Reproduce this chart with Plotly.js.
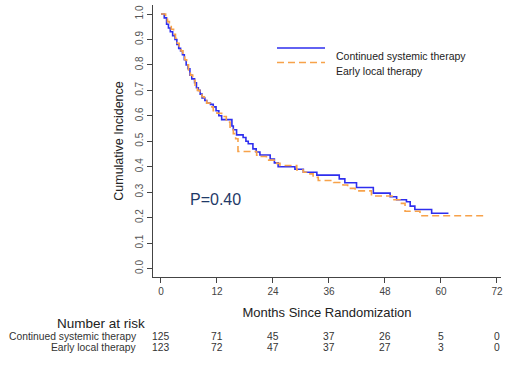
<!DOCTYPE html>
<html><head><meta charset="utf-8">
<script src="https://cdn.plot.ly/plotly-3.0.1.min.js"></script>
<style>html,body{margin:0;padding:0;background:#fff;}#chart{width:511px;height:366px;}</style>
</head><body><div id="chart"></div>
<script>
// Continued systemic therapy (step curve)
const cst_t = [0, 0.7, 1.2, 1.6, 2.0, 2.5, 3.0, 3.4, 3.8, 4.2, 4.6, 5.0, 5.4, 5.8, 6.2, 6.6, 7.2, 7.6, 8.0, 8.4, 8.8, 9.4, 9.8, 10.6, 11.2, 11.8, 12.4, 13.0, 15.2, 15.5, 16.2, 17.6, 18.2, 18.7, 19.7, 20.4, 21.2, 23.4, 24.3, 25.1, 28.7, 30.5, 33.4, 38.2, 39.4, 41.9, 45.5, 49.1, 50.5, 52.6, 53.4, 54.4, 58.0, 61.6];
const cst_v = [1.0, 0.985, 0.96, 0.945, 0.93, 0.915, 0.90, 0.88, 0.865, 0.855, 0.84, 0.82, 0.80, 0.785, 0.76, 0.745, 0.73, 0.71, 0.70, 0.685, 0.67, 0.66, 0.65, 0.645, 0.635, 0.62, 0.60, 0.585, 0.56, 0.545, 0.525, 0.515, 0.50, 0.49, 0.47, 0.458, 0.446, 0.43, 0.415, 0.40, 0.39, 0.378, 0.367, 0.352, 0.337, 0.318, 0.296, 0.282, 0.27, 0.262, 0.245, 0.232, 0.217, 0.217];
// Early local therapy (step curve)
const elt_t = [0, 1.0, 1.4, 1.8, 2.2, 2.7, 3.1, 3.5, 3.9, 4.3, 4.7, 5.1, 5.5, 5.9, 6.3, 6.8, 7.3, 7.8, 8.3, 8.8, 9.3, 9.8, 10.5, 11.2, 12.0, 13.0, 14.0, 14.8, 15.5, 16.0, 16.5, 20.5, 21.2, 22.6, 24.8, 25.5, 29.1, 30.5, 31.2, 32.6, 33.7, 37.0, 39.0, 40.0, 41.6, 45.1, 49.5, 51.2, 52.3, 55.5, 69.1];
const elt_v = [1.0, 0.985, 0.97, 0.955, 0.94, 0.92, 0.905, 0.885, 0.87, 0.855, 0.84, 0.82, 0.80, 0.78, 0.76, 0.74, 0.72, 0.70, 0.69, 0.675, 0.66, 0.65, 0.635, 0.62, 0.61, 0.597, 0.575, 0.55, 0.53, 0.51, 0.46, 0.445, 0.44, 0.426, 0.413, 0.405, 0.387, 0.378, 0.372, 0.358, 0.346, 0.338, 0.328, 0.315, 0.305, 0.285, 0.27, 0.256, 0.225, 0.207, 0.207];
// Number at risk
const risk_times = [0, 12, 24, 36, 48, 60, 72];
const risk_cst = [125, 71, 45, 37, 26, 5, 0];
const risk_elt = [123, 72, 47, 37, 27, 3, 0];
const series_names = ["Continued systemic therapy", "Early local therapy"];
const x_ticks = [0, 12, 24, 36, 48, 60, 72];
const y_ticks = [0, 0.1, 0.2, 0.3, 0.4, 0.5, 0.6, 0.7, 0.8, 0.9, 1.0];

const BLUE = '#2E2EEE', ORANGE = '#F7A24A';
const FONT = 'Liberation Sans, Arial, sans-serif';

const traces = [
  {x: cst_t, y: cst_v, mode: 'lines', line: {shape: 'hv', color: BLUE, width: 1.6}, name: series_names[0], showlegend: false},
  {x: elt_t, y: elt_v, mode: 'lines', line: {shape: 'hv', color: ORANGE, width: 1.6, dash: '7px,4px'}, name: series_names[1], showlegend: false}
];

function py(p){ return (277 - p) / 272; } // pixel row -> paper y

const annotations = [
  {xref: 'x', yref: 'y', x: 11.7, y: 0.27, xanchor: 'center', text: 'P=0.40', showarrow: false, font: {family: FONT, size: 16, color: '#1F3A68'}},
  {xref: 'paper', yref: 'paper', x: (334-153)/348, y: py(48), xanchor: 'left', text: series_names[0], showarrow: false, font: {family: FONT, size: 10.5, color: '#222'}},
  {xref: 'paper', yref: 'paper', x: (334-153)/348, y: py(62.5), xanchor: 'left', text: series_names[1], showarrow: false, font: {family: FONT, size: 10.5, color: '#222'}},
  {xref: 'paper', yref: 'paper', x: (101-153)/348, y: py(332.5), xanchor: 'center', text: 'Number at risk', showarrow: false, font: {family: FONT, size: 13.5, color: '#222'}},
  {xref: 'paper', yref: 'paper', x: (139-153)/348, y: py(343.5), xanchor: 'right', text: series_names[0], showarrow: false, font: {family: FONT, size: 10.3, color: '#333'}},
  {xref: 'paper', yref: 'paper', x: (139-153)/348, y: py(355), xanchor: 'right', text: series_names[1], showarrow: false, font: {family: FONT, size: 10.3, color: '#333'}}
];
risk_times.forEach((t, i) => {
  annotations.push({xref: 'x', yref: 'paper', x: t, y: py(343.5), xanchor: 'center', text: String(risk_cst[i]), showarrow: false, font: {family: FONT, size: 10.3, color: '#333'}});
  annotations.push({xref: 'x', yref: 'paper', x: t, y: py(355), xanchor: 'center', text: String(risk_elt[i]), showarrow: false, font: {family: FONT, size: 10.3, color: '#333'}});
});

const shapes = [
  {type: 'line', xref: 'paper', yref: 'paper', x0: (277-153)/348, x1: (325-153)/348, y0: py(48), y1: py(48), line: {color: BLUE, width: 1.6}},
  {type: 'line', xref: 'paper', yref: 'paper', x0: (277-153)/348, x1: (325-153)/348, y0: py(62.5), y1: py(62.5), line: {color: ORANGE, width: 1.6, dash: '7px,4px'}}
];

const layout = {
  width: 511, height: 366,
  margin: {l: 153, r: 10, t: 5, b: 89},
  paper_bgcolor: '#fff', plot_bgcolor: '#fff',
  font: {family: FONT, color: '#333'},
  showlegend: false,
  xaxis: {
    range: [-1.71, 72.86], tickvals: x_ticks, ticktext: x_ticks.map(String),
    showgrid: false, zeroline: false, showline: true, linecolor: '#444', linewidth: 1,
    ticks: 'outside', ticklen: 5, tickcolor: '#444', tickfont: {size: 10, color: '#444'},
    title: {text: 'Months Since Randomization', font: {size: 13, color: '#222'}, standoff: 11}
  },
  yaxis: {
    range: [-0.0334, 1.0354], tickvals: y_ticks, ticktext: y_ticks.map(v => v.toFixed(1)),
    showgrid: false, zeroline: false, showline: true, linecolor: '#444', linewidth: 1,
    ticks: 'outside', ticklen: 5, tickcolor: '#444', tickangle: -90, tickfont: {size: 10, color: '#555'},
    title: {text: 'Cumulative Incidence', font: {size: 12.5, color: '#222'}, standoff: 7}
  },
  annotations: annotations,
  shapes: shapes
};

Plotly.newPlot('chart', traces, layout, {staticPlot: true, displayModeBar: false});
</script></body></html>
